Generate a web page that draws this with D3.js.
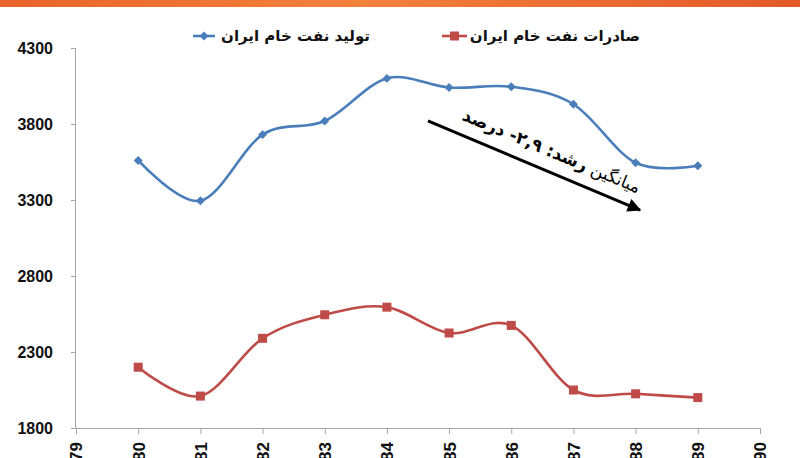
<!DOCTYPE html>
<html><head><meta charset="utf-8">
<script src="https://cdn.jsdelivr.net/npm/d3@7"></script>
<style>body{margin:0;background:#fff}svg{display:block}</style>
</head><body>
<svg id="c" width="800" height="458"></svg>
<script>
const years = [80, 81, 82, 83, 84, 85, 86, 87, 88, 89];
const production = [3560, 3295, 3730, 3820, 4100, 4040, 4045, 3930, 3545, 3525];
const exports = [2200, 2010, 2390, 2545, 2595, 2425, 2475, 2050, 2025, 2000];
const yTicks = [1800, 2300, 2800, 3300, 3800, 4300];
const xTicks = [79, 80, 81, 82, 83, 84, 85, 86, 87, 88, 89, 90];
const seriesNames = ["تولید نفت خام ایران", "صادرات نفت خام ایران"];
const annotationText = ["میانگین ", "رشد: ۲,۹- درصد"];
const trendFrom = [84.66, 3820];
const trendTo = [88.07, 3234];

const svg = d3.select("#c");
const defs = svg.append("defs");
const g = defs.append("linearGradient").attr("id","band").attr("x1","0").attr("x2","1");
g.append("stop").attr("offset","0").attr("stop-color","#e8642a");
g.append("stop").attr("offset","0.45").attr("stop-color","#f2813a");
g.append("stop").attr("offset","1").attr("stop-color","#e3592a");
defs.append("marker").attr("id","ah").attr("viewBox","0 0 10 10").attr("refX",9).attr("refY",5)
  .attr("markerWidth",5).attr("markerHeight",4.5).attr("orient","auto")
  .append("path").attr("d","M0,0 L10,5 L0,10 z").attr("fill","#000");

svg.append("rect").attr("x",0).attr("y",0).attr("width",800).attr("height",7).attr("fill","url(#band)");

const x = d3.scaleLinear().domain([79, 90]).range([76, 760]);
const y = d3.scaleLinear().domain([1800, 4300]).range([428, 48]);

const font = "'DejaVu Sans', 'Liberation Sans', sans-serif";
const axisColor = "#a6a6a6";

const ya = svg.append("g").attr("transform","translate(76,0)")
  .call(d3.axisLeft(y).tickValues(yTicks).tickSize(5).tickPadding(18).tickFormat(d3.format("d")));
ya.select(".domain").attr("stroke",axisColor).attr("d","M-0.5,48V428");
ya.selectAll(".tick line").attr("stroke",axisColor);
ya.selectAll("text").attr("font-family","'Liberation Sans', sans-serif").attr("font-weight","bold")
  .attr("font-size",16).attr("fill","#111");

const xa = svg.append("g").attr("transform","translate(0,428)")
  .call(d3.axisBottom(x).tickValues(xTicks).tickSize(6).tickFormat(d3.format("d")));
xa.select(".domain").attr("stroke",axisColor);
xa.selectAll(".tick line").attr("stroke",axisColor);
xa.selectAll("text").attr("font-family","'Liberation Sans', sans-serif").attr("font-weight","bold")
  .attr("font-size",17).attr("fill","#111")
  .attr("transform","rotate(-90)").attr("text-anchor","end").attr("x",-14).attr("y",0).attr("dy","0.35em");

const line = d3.line().x((d,i)=>x(years[i])).y(d=>y(d)).curve(d3.curveCatmullRom.alpha(0));
const blue = "#4a7ebb", red = "#be4b48";

svg.append("path").attr("d", line(production)).attr("fill","none").attr("stroke",blue).attr("stroke-width",2.6);
svg.append("path").attr("d", line(exports)).attr("fill","none").attr("stroke",red).attr("stroke-width",2.6);

svg.append("g").selectAll("path").data(production).join("path")
  .attr("d", d3.symbol().type(d3.symbolSquare).size(40))
  .attr("transform",(d,i)=>`translate(${x(years[i])},${y(d)}) rotate(45)`).attr("fill",blue);
svg.append("g").selectAll("rect").data(exports).join("rect")
  .attr("x",(d,i)=>x(years[i])-4.5).attr("y",d=>y(d)-4.5).attr("width",9).attr("height",9).attr("fill",red);

// legend
const lg = svg.append("g");
lg.append("text").attr("x",370).attr("y",41).attr("text-anchor","start").attr("direction","rtl")
  .attr("font-family",font).attr("font-weight","bold").attr("font-size",15).attr("fill","#111").text(seriesNames[0]);
lg.append("line").attr("x1",193).attr("x2",215).attr("y1",36).attr("y2",36).attr("stroke",blue).attr("stroke-width",2.6);
lg.append("path").attr("d", d3.symbol().type(d3.symbolSquare).size(40)).attr("transform","translate(204,36) rotate(45)").attr("fill",blue);
lg.append("text").attr("x",640).attr("y",41).attr("text-anchor","start").attr("direction","rtl")
  .attr("font-family",font).attr("font-weight","bold").attr("font-size",15).attr("fill","#111").text(seriesNames[1]);
lg.append("line").attr("x1",442).attr("x2",467).attr("y1",36).attr("y2",36).attr("stroke",red).attr("stroke-width",2.6);
lg.append("rect").attr("x",450).attr("y",31.5).attr("width",9).attr("height",9).attr("fill",red);

// trend arrow
const x1 = x(trendFrom[0]), y1 = y(trendFrom[1]), x2 = x(trendTo[0]), y2 = y(trendTo[1]);
svg.append("line").attr("x1",x1).attr("y1",y1).attr("x2",x2).attr("y2",y2)
  .attr("stroke","#000").attr("stroke-width",3).attr("marker-end","url(#ah)");
const ang = Math.atan2(y2-y1, x2-x1)*180/Math.PI;
const cx = (x1+x2)/2 + 10, cy = (y1+y2)/2 + 4;
const t = svg.append("text").attr("transform",`translate(${cx},${cy}) rotate(${ang}) translate(0,-14)`)
  .attr("text-anchor","middle").attr("direction","rtl").attr("font-family",font).attr("font-size",17).attr("fill","#000");
t.append("tspan").text(annotationText[0]);
t.append("tspan").attr("font-weight","bold").text(annotationText[1]);
</script>
</body></html>
